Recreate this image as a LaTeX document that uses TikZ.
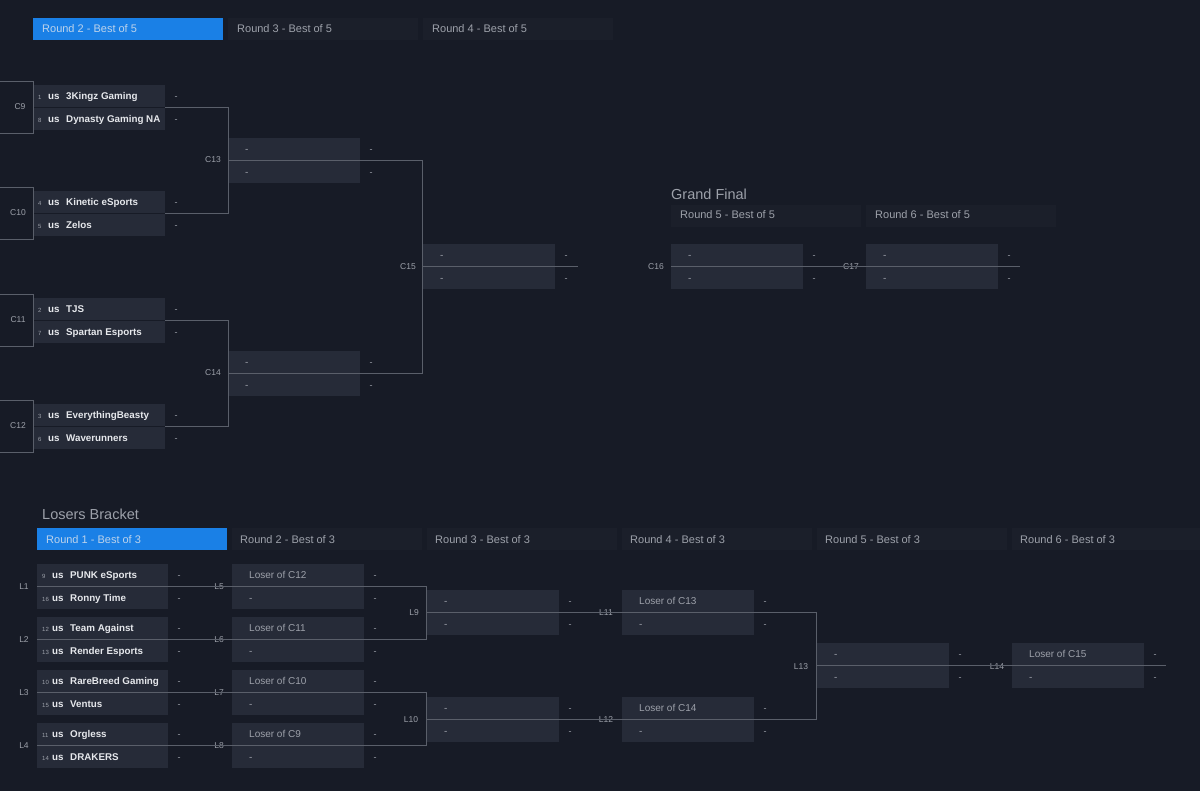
\documentclass[tikz,border=0pt]{standalone}
\usepackage{fontspec}
\setmainfont{Liberation Sans}
\definecolor{bg}{HTML}{171B26}
\definecolor{rowc}{HTML}{262B38}
\definecolor{tabc}{HTML}{1B1F2A}
\definecolor{blu}{HTML}{1A80E6}
\definecolor{lnc}{HTML}{5A5F6A}
\definecolor{txg}{HTML}{9DA1AA}
\definecolor{txw}{HTML}{E6E8EC}
\tikzset{
 rowbox/.style={fill=rowc,draw=none,anchor=north west,minimum width=#1,minimum height=22pt,inner sep=0pt},
 rowbox/.default=132pt,
 tab/.style={fill=tabc,anchor=north west,minimum width=190pt,minimum height=22pt,inner sep=0pt},
 tabtxt/.style={font=\fontsize{11}{12}\selectfont,text=txg,anchor=base west,inner sep=0pt},
 lbl/.style={font=\fontsize{8.5}{9}\selectfont,text=txg,anchor=base,inner sep=0pt},
 nm/.style={font=\fontsize{9.8}{10}\bfseries\selectfont,text=txw,anchor=base west,inner sep=0pt},
 sd/.style={font=\fontsize{6}{6}\selectfont,text=txg,anchor=base west,inner sep=0pt},
 sc/.style={font=\fontsize{9}{9}\selectfont,text=txg,anchor=base,inner sep=0pt},
 ph/.style={font=\fontsize{10}{10}\selectfont,text=txg,anchor=base west,inner sep=0pt},
 ln/.style={draw=lnc,line width=0.7pt},
 ttl/.style={font=\fontsize{14.5}{15}\selectfont,text=txg,anchor=base west,inner sep=0pt}
}
\newcommand{\tmatch}[8]{%
 \node[rowbox=#8] (#1a) at (#2,#3) {};
 \node[rowbox=#8] (#1b) at (#2,#3+23) {};
 \node[sd] at (#2+5,#3+14.5) {#4};
 \node[nm] at (#2+15,#3+14.5) {us};
 \node[nm] at (#2+33,#3+14.5) {#5};
 \node[sd] at (#2+5,#3+37.5) {#6};
 \node[nm] at (#2+15,#3+37.5) {us};
 \node[nm] at (#2+33,#3+37.5) {#7};
 \node[sc] at (#2+#8+11,#3+14.5) {-};
 \node[sc] at (#2+#8+11,#3+37.5) {-};
 \coordinate (#1m) at (#2,#3+22.5);
 \coordinate (#1e) at (#2+#8,#3+22.5);
}
\newcommand{\pmatch}[4]{%
 \node[rowbox] (#1a) at (#2,#3) {};
 \node[rowbox] (#1b) at (#2,#3+23) {};
 \node[ph] at (#2+17,#3+14.5) {#4};
 \node[ph] at (#2+17,#3+37.5) {-};
 \node[sc] at (#2+143,#3+14.5) {-};
 \node[sc] at (#2+143,#3+37.5) {-};
 \coordinate (#1m) at (#2,#3+22.5);
 \coordinate (#1e) at (#2+132,#3+22.5);
}
\begin{document}
\begin{tikzpicture}[x=1pt,y=-1pt]
\fill[bg] (0,0) rectangle (1200,791);
\useasboundingbox (0,0) rectangle (1200,791);
\node[tab,fill=blu] (t2) at (33,18) {}; \node[tabtxt,text=txw!80!blu] at (42,33) {Round 2 - Best of 5};
\node[tab] (t3) at (228,18) {}; \node[tabtxt] at (237,33) {Round 3 - Best of 5};
\node[tab] (t4) at (423,18) {}; \node[tabtxt] at (432,33) {Round 4 - Best of 5};
\tmatch{c9}{33}{85}{1}{3Kingz Gaming}{8}{Dynasty Gaming NA}{132}
\tmatch{c10}{33}{191}{4}{Kinetic eSports}{5}{Zelos}{132}
\tmatch{c11}{33}{298}{2}{TJS}{7}{Spartan Esports}{132}
\tmatch{c12}{33}{404}{3}{EverythingBeasty}{6}{Waverunners}{132}
\foreach \n/\y in {c9/107,c10/213,c11/320,c12/426}{
 \draw[ln] (-2,\y-26) -| (33,\y+26) -- (-2,\y+26);
}
\node[lbl] (l9) at (20,110) {C9};
\node[lbl] (l10) at (18,216) {C10};
\node[lbl] (l11) at (18,323) {C11};
\node[lbl] (l12) at (18,429) {C12};
\pmatch{c13}{228}{138}{-}
\pmatch{c14}{228}{351}{-}
\node[lbl] at (213,163) {C13};
\node[lbl] at (213,376) {C14};
\draw[ln] (c9e) -- (228,107.5) |- (c10e);
\draw[ln] (c11e) -- (228,320.5) |- (c12e);
\pmatch{c15}{423}{244}{-}
\node[lbl] at (408,270) {C15};
\draw[ln] (c13m) -- (c13e) -- (422,160.5) |- (c14e) -- (c14m);
\draw[ln] (c15m) -- (578,266.5);
\node[ttl] at (671,200) {Grand Final};
\node[tab] (t5) at (671,205) {}; \node[tabtxt] at (680,219) {Round 5 - Best of 5};
\node[tab] (t6) at (866,205) {}; \node[tabtxt] at (875,219) {Round 6 - Best of 5};
\pmatch{c16}{671}{244}{-}
\pmatch{c17}{866}{244}{-}
\node[lbl] at (656,270) {C16};
\node[lbl] at (851,270) {C17};
\draw[ln] (c16m) -- (c17e) -- (1020,266.5);
\node[ttl] at (42,519) {Losers Bracket};
\node[tab,fill=blu] (lt1) at (37,528) {}; \node[tabtxt,text=txw!80!blu] at (46,543) {Round 1 - Best of 3};
\foreach \i/\x in {2/232,3/427,4/622,5/817,6/1012}{
 \node[tab] (lt\i) at (\x,528) {}; \node[tabtxt] at (\x+8,543) {Round \i{} - Best of 3};
}
\tmatch{l1}{37}{564}{9}{PUNK eSports}{16}{Ronny Time}{131}
\tmatch{l2}{37}{617}{12}{Team Against}{13}{Render Esports}{131}
\tmatch{l3}{37}{670}{10}{RareBreed Gaming}{15}{Ventus}{131}
\tmatch{l4}{37}{723}{11}{Orgless}{14}{DRAKERS}{131}
\node[lbl] at (24,589) {L1};
\node[lbl] at (24,642) {L2};
\node[lbl] at (24,695) {L3};
\node[lbl] at (24,748) {L4};
\pmatch{l5}{232}{564}{Loser of C12}
\pmatch{l6}{232}{617}{Loser of C11}
\pmatch{l7}{232}{670}{Loser of C10}
\pmatch{l8}{232}{723}{Loser of C9}
\node[lbl] at (219,589) {L5};
\node[lbl] at (219,642) {L6};
\node[lbl] at (219,695) {L7};
\node[lbl] at (219,748) {L8};
\pmatch{l9}{427}{590}{-}
\pmatch{l10}{427}{697}{-}
\node[lbl] at (414,615) {L9};
\node[lbl] at (411,722) {L10};
\draw[ln] (l1m) -- (l5e) -- (426,586.5) |- (l6e) -- (l2m);
\draw[ln] (l3m) -- (l7e) -- (426,692.5) |- (l8e) -- (l4m);
\pmatch{l11}{622}{590}{Loser of C13}
\pmatch{l12}{622}{697}{Loser of C14}
\node[lbl] at (606,615) {L11};
\node[lbl] at (606,722) {L12};
\draw[ln] (l9m) -- (l11e);
\draw[ln] (l10m) -- (l12e);
\draw[ln] (l11e) -- (816,612.5) |- (l12e);
\pmatch{l13}{817}{643}{-}
\pmatch{l14}{1012}{643}{Loser of C15}
\node[lbl] at (801,669) {L13};
\node[lbl] at (997,669) {L14};
\draw[ln] (l13m) -- (l14e) -- (1166,665.5);
\end{tikzpicture}
\end{document}
